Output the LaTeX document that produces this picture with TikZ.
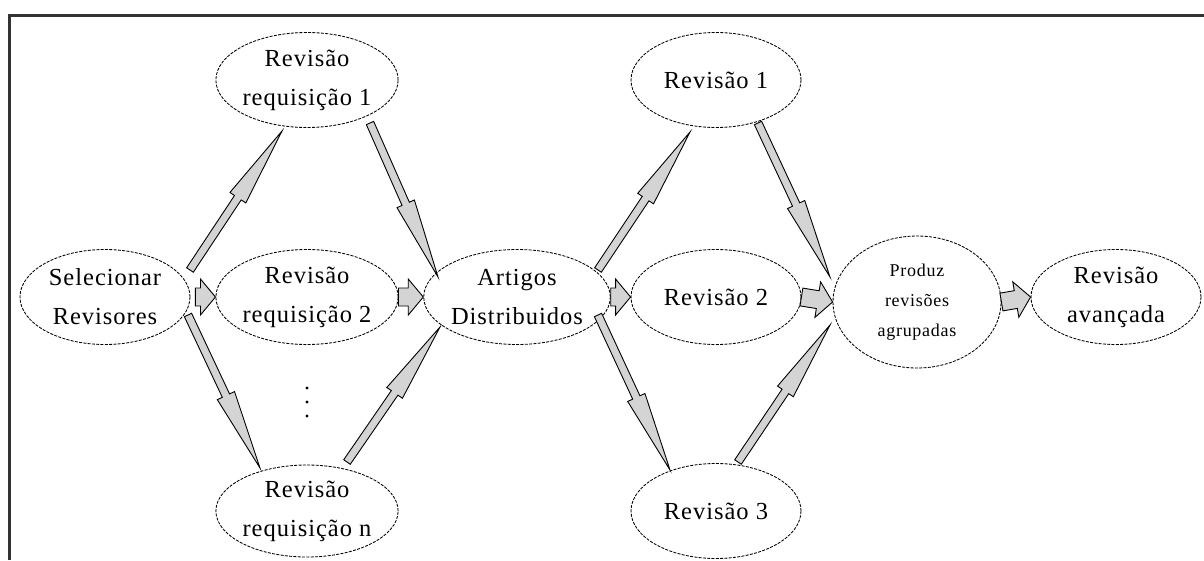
\documentclass[tikz,border=0pt]{standalone}
\usepackage{fontspec}
\setmainfont{Liberation Serif}[LetterSpace=4]
\usetikzlibrary{shapes.geometric,calc}
\tikzset{
  bubble/.style={ellipse, draw=black, line width=0.85pt, dash pattern=on 3pt off 1.3pt,
    inner sep=0pt, align=center, minimum width=170pt, minimum height=95pt,
    font=\fontsize{24.5}{39}\selectfont},
  blockarrow/.style={draw=black, fill=black!17, line width=0.9pt, line join=miter},
  frameline/.style={draw=black!80, line width=3.2pt, line join=miter},
}
% #1 tail, #2 tip, #3 shaft half width, #4 head half width, #5 head length
\newcommand\barrow[5]{%
  \coordinate (bh) at ($(#2)!#5!(#1)$);
  \filldraw[blockarrow] ($(#1)!#3!90:(#2)$) -- ($(bh)!#3!90:(#2)$) -- ($(bh)!#4!90:(#2)$)
    -- (#2) -- ($(bh)!#4!-90:(#2)$) -- ($(bh)!#3!-90:(#2)$) -- ($(#1)!#3!-90:(#2)$) -- cycle;
}
\begin{document}
\begin{tikzpicture}[x=1pt,y=1pt]
\useasboundingbox (0,0) rectangle (1204,-560);
\draw[frameline] (9.5,-560) -- (9.5,-15.5) -- (1204,-15.5);

\node[bubble] (sel) at (105,-297) {Selecionar\\Revisores};
\node[bubble] (r1) at (307,-80) {Revisão\\requisição 1};
\node[bubble] (r2) at (307,-297) {Revisão\\requisição 2};
\node[bubble, minimum height=92pt] (rn) at (307,-511) {Revisão\\requisição n};
\node[bubble, minimum width=166pt] (art) at (517,-297) {Artigos\\Distribuidos};
\node[bubble] (v1) at (716,-80) {Revisão 1};
\node[bubble] (v2) at (716,-297) {Revisão 2};
\node[bubble] (v3) at (716,-511) {Revisão 3};
\node[bubble, minimum width=168pt, minimum height=132pt, font=\fontsize{18}{30}\selectfont] (prod) at (917,-302) {Produz\\revisões\\agrupadas};
\node[bubble] (adv) at (1116,-297) {Revisão\\avançada};

\foreach \yy in {388,402,416} \fill (307,-\yy) circle (1.6pt);

% diagonal arrow ends
\coordinate (a1s) at ($(sel.center)+(85,27)$);
\coordinate (a1e) at ($(r1.center)+(-25,-51)$);
\coordinate (a3s) at ($(sel.center)+(83,-18)$);
\coordinate (a3e) at ($(rn.center)+(-47,43)$);
\coordinate (a4s) at ($(r1.center)+(63,-43)$);
\coordinate (a4e) at ($(art.center)+(-79,20)$);
\coordinate (a6s) at ($(rn.center)+(40,49)$);
\coordinate (a6e) at ($(art.center)+(-77,-30)$);
\coordinate (a7s) at ($(art.center)+(81,27)$);
\coordinate (a7e) at ($(v1.center)+(-26,-52)$);
\coordinate (a9s) at ($(art.center)+(81,-18)$);
\coordinate (a9e) at ($(v3.center)+(-46,41)$);
\coordinate (a10s) at ($(v1.center)+(42,-43)$);
\coordinate (a10e) at ($(prod.center)+(-87,25)$);
\coordinate (a12s) at ($(v3.center)+(22,49)$);
\coordinate (a12e) at ($(prod.center)+(-87,-23)$);
\coordinate (a2s) at ($(sel.east)+(5,0)$);

\barrow{a1s}{a1e}{4pt}{9.5pt}{80pt}
\barrow{a3s}{a3e}{4pt}{9.5pt}{80pt}
\barrow{a4s}{a4e}{4pt}{9.5pt}{80pt}
\barrow{a6s}{a6e}{4pt}{9.5pt}{80pt}
\barrow{a7s}{a7e}{4pt}{9.5pt}{80pt}
\barrow{a9s}{a9e}{4pt}{9.5pt}{80pt}
\barrow{a10s}{a10e}{4pt}{9.5pt}{80pt}
\barrow{a12s}{a12e}{4pt}{9.5pt}{80pt}

\barrow{a2s}{r2.west}{9pt}{18pt}{15pt}
\barrow{r2.east}{art.west}{9pt}{18pt}{15pt}
\barrow{art.east}{v2.west}{9pt}{18pt}{15pt}
\barrow{v2.east}{prod.west}{9pt}{18pt}{15pt}
\barrow{prod.east}{adv.west}{9pt}{18pt}{15pt}
\end{tikzpicture}
\end{document}
